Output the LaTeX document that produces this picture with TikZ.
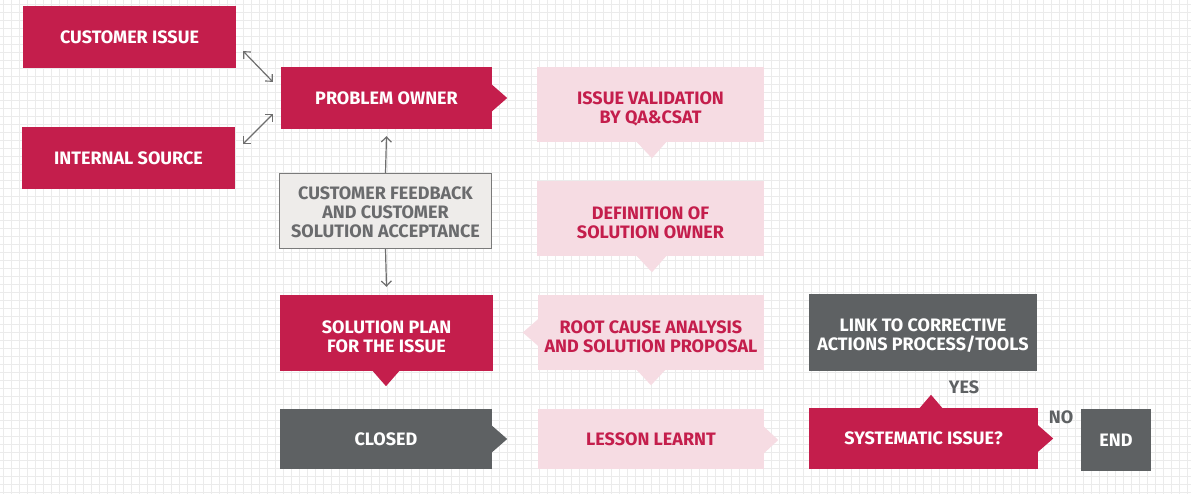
\documentclass[tikz,border=0pt]{standalone}
\usepackage{fontspec}
\setmainfont{Fira Sans}
\usetikzlibrary{arrows.meta}
\definecolor{crim}{HTML}{C41E4C}
\definecolor{pinkbg}{HTML}{F6DCE3}
\definecolor{darkbox}{HTML}{5E6163}
\definecolor{lightbox}{HTML}{EEECEA}
\definecolor{lightborder}{HTML}{7A7A7A}
\definecolor{lighttext}{HTML}{6A6B6D}
\definecolor{gridc}{HTML}{EBEBEB}
\definecolor{arrowc}{HTML}{6E6E6E}
\newcommand\lowr[1]{\rule{0pt}{#1}}
\tikzset{
  box/.style={rectangle, inner sep=0pt, align=center,
    font=\bfseries\fontsize{18}{19}\selectfont},
  redbox/.style={box, fill=crim, text=white},
  pinkbox/.style={box, fill=pinkbg, text=crim},
  darkbx/.style={box, fill=darkbox, text=white},
  lightbx/.style={box, fill=lightbox, draw=lightborder, line width=1.3pt, text=lighttext},
  conn/.style={draw=arrowc, line width=1.2pt, {Straight Barb[length=5pt,width=10pt]}-{Straight Barb[length=5pt,width=10pt]}},
  upconn/.style={draw=arrowc, line width=1.2pt, -{Straight Barb[length=5pt,width=10pt]}},
  lbl/.style={font=\bfseries\fontsize{18}{19}\selectfont, text=darkbox, inner sep=0pt},
}
\begin{document}
\begin{tikzpicture}[x=1pt,y=-1pt]
\useasboundingbox (0,0) rectangle (1191,494);
\fill[white] (0,0) rectangle (1191,494);
\foreach \x in {3,11,...,1191} \draw[gridc, line width=1pt] (\x,0) -- (\x,494);
\foreach \y in {4.7,12.7,...,494} \draw[gridc, line width=1pt] (0,\y) -- (1191,\y);

% boxes
\node[redbox, minimum width=213, minimum height=62] (ci) at (129.5,37) {CUSTOMER ISSUE};
\node[redbox, minimum width=213, minimum height=62] (is) at (128.5,158) {INTERNAL SOURCE};
\node[redbox, minimum width=211, minimum height=62] (po) at (386.5,98) {PROBLEM OWNER};
\node[pinkbox, minimum width=227, minimum height=75] (iv) at (650.5,104.5) {\lowr{22.4pt}ISSUE VALIDATION\\BY QA\&CSAT};
\node[pinkbox, minimum width=227, minimum height=75] (ds) at (650.5,218.5) {\lowr{20.4pt}DEFINITION OF\\SOLUTION OWNER};
\node[lightbx, minimum width=212, minimum height=75] (fb) at (385.5,211) {\lowr{15.4pt}CUSTOMER FEEDBACK\\AND CUSTOMER\\SOLUTION ACCEPTANCE};
\node[redbox, minimum width=213, minimum height=76] (sp) at (386.5,333) {\lowr{19.6pt}SOLUTION PLAN\\FOR THE ISSUE};
\node[pinkbox, minimum width=226, minimum height=75] (rc) at (651,332.5) {\lowr{20.4pt}ROOT CAUSE ANALYSIS\\AND SOLUTION PROPOSAL};
\node[darkbx, minimum width=228, minimum height=77] (lk) at (923,332.5) {\lowr{19pt}LINK TO CORRECTIVE\\ACTIONS PROCESS/TOOLS};
\node[darkbx, minimum width=212, minimum height=60] (cl) at (386,439) {CLOSED};
\node[pinkbox, minimum width=226, minimum height=60] (ll) at (651,439) {LESSON LEARNT};
\node[redbox, minimum width=229, minimum height=61] (sy) at (923.5,438.5) {SYSTEMATIC ISSUE?};
\node[darkbx, minimum width=70, minimum height=62] (en) at (1116,440) {END};

% notches (flow arrows)
\fill[crim] ([shift={(-1,-14)}]po.east) -- ++(16,14) -- ++(-16,14) -- cycle;
\fill[pinkbg] ([shift={(-14.5,-1)}]iv.south) -- ++(16,17) -- ++(15,-17) -- cycle;
\fill[pinkbg] ([shift={(-14.5,-1)}]ds.south) -- ++(16,17) -- ++(15,-17) -- cycle;
\fill[crim] ([shift={(-14.5,-1)}]sp.south) -- ++(14,16) -- ++(14,-16) -- cycle;
\fill[pinkbg] ([shift={(1,-14)}]rc.west) -- ++(-16,14) -- ++(16,14) -- cycle;
\fill[pinkbg] ([shift={(-15,-1)}]rc.south) -- ++(15,16) -- ++(15,-16) -- cycle;
\fill[darkbox] ([shift={(-1,-14)}]cl.east) -- ++(16,14) -- ++(-16,14) -- cycle;
\fill[pinkbg] ([shift={(-1,-13)}]ll.east) -- ++(15,14) -- ++(-15,14) -- cycle;
\fill[crim] ([shift={(-1,-14)}]sy.east) -- ++(16,14) -- ++(-16,14) -- cycle;
\fill[crim] ([shift={(-4.5,1)}]sy.north) -- ++(12,-14) -- ++(12,14) -- cycle;

% connectors
\draw[conn] ([shift={(7,-17)}]ci.south east) -- ([shift={(-8,15)}]po.north west);
\draw[conn] ([shift={(8,17)}]is.north east) -- ([shift={(-8,-15)}]po.south west);
\draw[upconn] (fb.north) -- ([shift={(0,7)}]po.south);
\draw[upconn] (fb.south) -- ([shift={(0,-8)}]sp.north);

% labels
\node[lbl] (yes) at (964,387) {YES};
\node[lbl] (no) at (1061,417) {NO};
\end{tikzpicture}
\end{document}
